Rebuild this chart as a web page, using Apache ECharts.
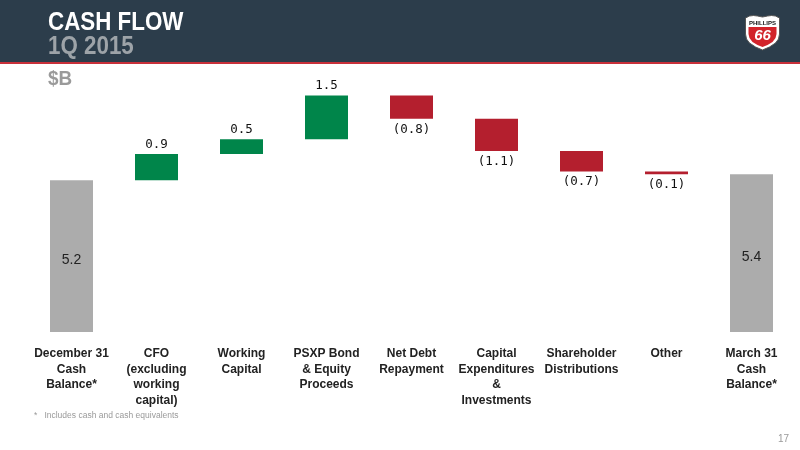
<!DOCTYPE html>
<html>
<head>
<meta charset="utf-8">
<script src="https://cdn.jsdelivr.net/npm/echarts@6/dist/echarts.min.js"></script>
<style>
html,body{margin:0;padding:0;background:#fff;}
#chart{width:800px;height:450px;}
</style>
</head>
<body>
<div id="chart"></div>
<script>
var categories = ['December 31\nCash\nBalance*', 'CFO\n(excluding\nworking\ncapital)', 'Working\nCapital', 'PSXP Bond\n& Equity\nProceeds', 'Net Debt\nRepayment', 'Capital\nExpenditures\n&\nInvestments', 'Shareholder\nDistributions', 'Other', 'March 31\nCash\nBalance*'];
var values = [5.2, 0.9, 0.5, 1.5, -0.8, -1.1, -0.7, -0.1, 5.4];
var kinds = ['total', 'up', 'up', 'up', 'down', 'down', 'down', 'down', 'total'];

var COLORS = {total: '#acacac', up: '#00854a', down: '#b41f2e'};
var SANS = "'Liberation Sans', Arial, sans-serif";
var MONO = "'DejaVu Sans Mono', 'Liberation Mono', monospace";

var base = [], shown = [];
var running = 0;
for (var i = 0; i < values.length; i++) {
  var v = values[i];
  if (kinds[i] === 'total') {
    base.push(0);
    running = v;
    shown.push({value: v, itemStyle: {color: COLORS.total},
      label: {show: true, position: 'inside', offset: [0, 4], fontFamily: SANS, fontSize: 14, color: '#222', formatter: v.toFixed(1)}});
  } else if (v >= 0) {
    base.push(running);
    running += v;
    shown.push({value: v, itemStyle: {color: COLORS.up},
      label: {show: true, position: 'top', distance: 3, fontFamily: MONO, fontSize: 12.5, color: '#111', formatter: v.toFixed(1)}});
  } else {
    running += v;
    base.push(running);
    shown.push({value: -v, itemStyle: {color: COLORS.down},
      label: {show: true, position: 'bottom', distance: 4, fontFamily: MONO, fontSize: 12.5, color: '#111', formatter: '(' + (-v).toFixed(1) + ')'}});
  }
}

var chart = echarts.init(document.getElementById('chart'));
chart.setOption({
  animation: false,
  backgroundColor: '#ffffff',
  grid: {left: 29, width: 765, top: 40, height: 292, containLabel: false},
  xAxis: {
    type: 'category', data: categories,
    axisLine: {show: false}, axisTick: {show: false},
    axisLabel: {interval: 0, margin: 14, fontFamily: SANS, fontWeight: 'bold', fontSize: 12, color: '#222', lineHeight: 15.5, verticalAlign: 'top'}
  },
  yAxis: {type: 'value', min: 0, max: 10, show: false, splitLine: {show: false}},
  series: [
    {type: 'bar', stack: 'w', data: base, barWidth: 43, itemStyle: {color: 'transparent'}, silent: true},
    {type: 'bar', stack: 'w', data: shown, barWidth: 43}
  ],
  graphic: [
    {type: 'rect', shape: {x: 0, y: 0, width: 800, height: 62}, style: {fill: '#2c3d4b'}, z: 0},
    {type: 'rect', shape: {x: 0, y: 62, width: 800, height: 2}, style: {fill: '#c8303a'}, z: 0},
    {type: 'text', x: 48, y: 10, scaleX: 0.86, style: {text: 'CASH FLOW', fill: '#ffffff', fontFamily: SANS, fontWeight: 'bold', fontSize: 26}},
    {type: 'text', x: 48, y: 34, scaleX: 0.86, style: {text: '1Q 2015', fill: '#9da3a8', fontFamily: SANS, fontWeight: 'bold', fontSize: 26}},
    {type: 'text', x: 48, y: 69, scaleX: 0.9, style: {text: '$B', fill: '#9a9a9a', fontFamily: SANS, fontWeight: 'bold', fontSize: 21}},
    {type: 'text', left: 34, top: 411, style: {text: '*   Includes cash and cash equivalents', fill: '#9a9a9a', fontFamily: SANS, fontSize: 8.5}},
    {type: 'text', left: 778, top: 434, style: {text: '17', fill: '#9a9a9a', fontFamily: SANS, fontSize: 10}},
    {type: 'group', left: 745, top: 15, children: [
      {type: 'polygon', shape: {points: [[1,4],[5,2],[9,1.5],[13,2],[18,3],[23,2],[27,1.5],[31,2],[35,4],[35,20],[34,25],[31,29],[25,33],[18,36],[11,33],[5,29],[2,25],[1,20]]}, style: {fill: '#ffffff', stroke: '#555', lineWidth: 1}},
      {type: 'polygon', shape: {points: [[4,13],[32,13],[32,20],[31,24],[28,28],[23,31],[18,33],[13,31],[8,28],[5,24],[4,20]]}, style: {fill: '#d2232a'}},
      {type: 'text', x: 18, y: 9, style: {text: 'PHILLIPS', fill: '#111', fontFamily: SANS, fontWeight: 'bold', fontSize: 6, align: 'center', verticalAlign: 'middle'}},
      {type: 'text', x: 18, y: 22, style: {text: '66', fill: '#ffffff', fontFamily: SANS, fontStyle: 'italic', fontWeight: 'bold', fontSize: 15, align: 'center', verticalAlign: 'middle'}}
    ]}
  ]
});
</script>
</body>
</html>
